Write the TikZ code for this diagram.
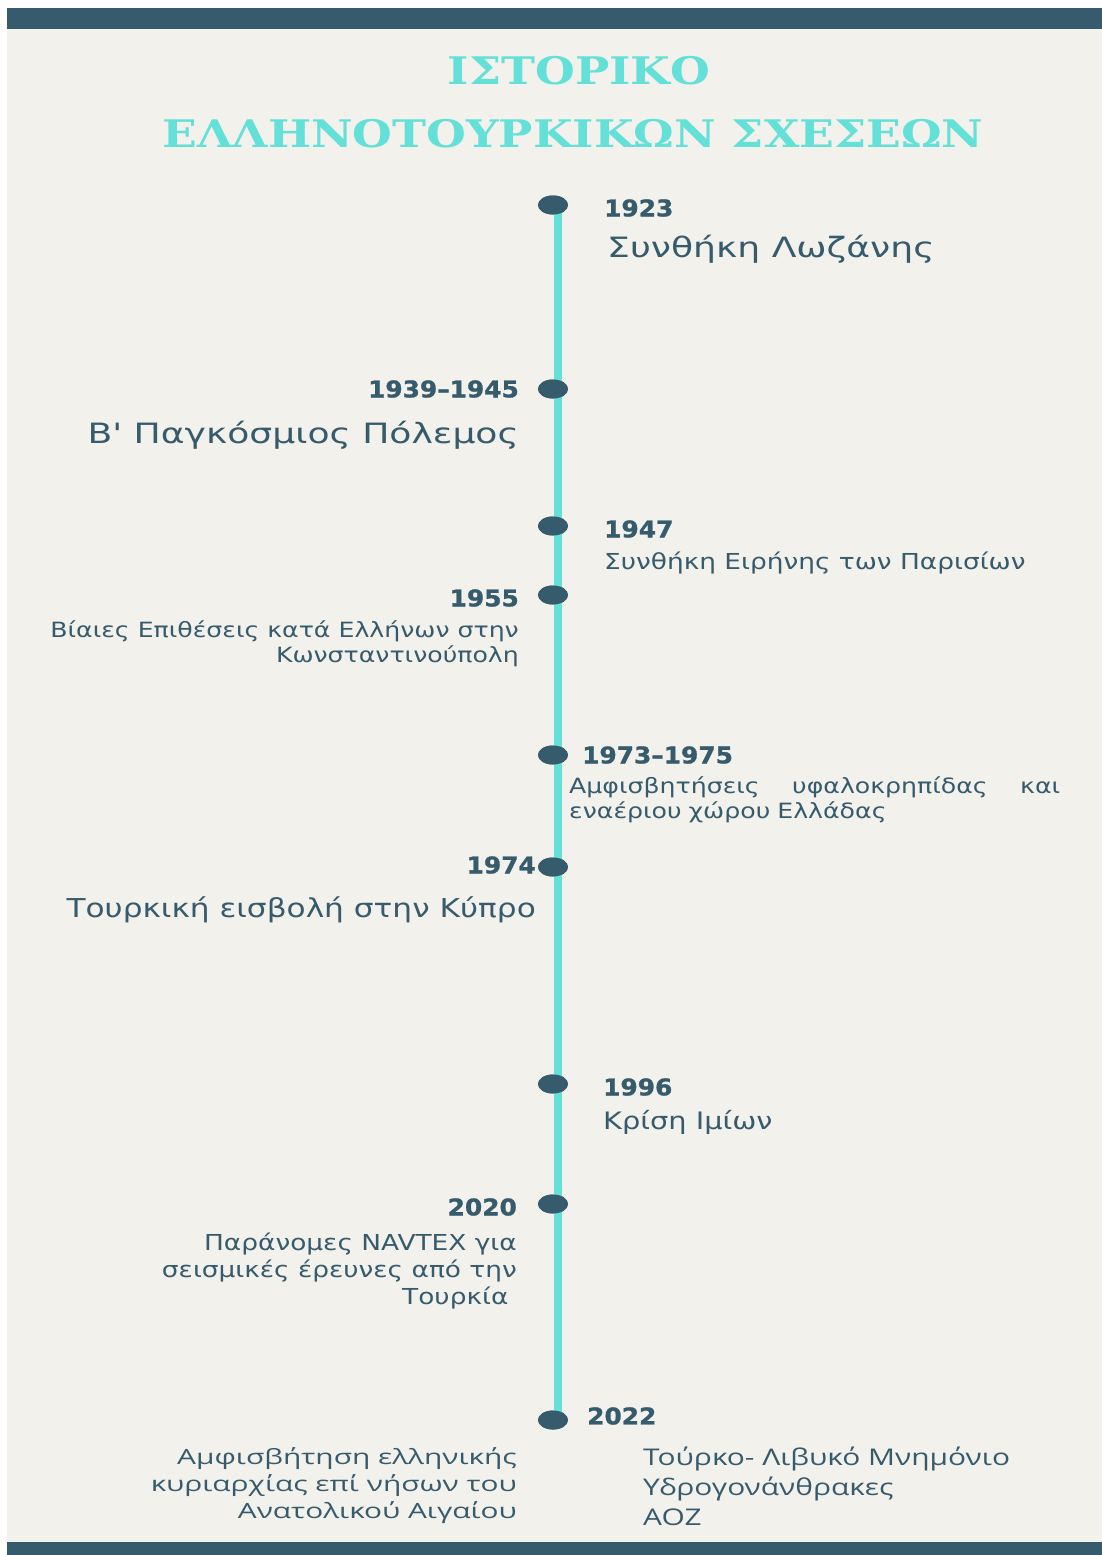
\documentclass[tikz,border=0pt]{standalone}
\usepackage{fontspec}
\setmainfont{DejaVu Sans}
\newfontfamily\bodyfont{DejaVu Sans}[FakeStretch=1.2]
\newfontfamily\widebodyfont{DejaVu Sans}[FakeStretch=1.29]
\newfontfamily\yearfont{DejaVu Sans}[FakeStretch=1.08, BoldFeatures={FakeBold=1.2}]
\newfontfamily\notefont{Open Sans}[FakeStretch=1.3]
\newfontfamily\widenotefont{Open Sans}[FakeStretch=1.42]
\newfontfamily\titlefont{DejaVu Serif}[FakeStretch=1.2]
\usetikzlibrary{shapes,arrows}
\definecolor{bgpage}{HTML}{F2F1EC}
\definecolor{darkteal}{HTML}{365B6D}
\definecolor{aqua}{HTML}{63E0D8}
\newcommand{\fs}[2]{\fontsize{#1}{#2}\selectfont}
\tikzstyle{dot} = [ellipse, fill=darkteal, minimum width=30pt, minimum height=19pt, inner sep=0pt]
\tikzstyle{year} = [text=darkteal, font=\yearfont\bfseries\fs{23}{28}, inner sep=0pt]
\tikzstyle{event} = [text=darkteal, inner sep=0pt]
\tikzstyle{heading} = [text=aqua, font=\titlefont\bfseries\fs{38}{46}, inner sep=0pt]
\tikzstyle{line} = [draw=aqua, line width=8pt]

\begin{document}
\begin{tikzpicture}[x=1pt, y=-1pt]
      \useasboundingbox (0,0) rectangle (1102,1555);
      \fill [bgpage] (7,8) rectangle (1102,1555);
      \fill [darkteal] (7,8) rectangle (1102,29);
      \fill [darkteal] (7,1542) rectangle (1102,1555);

      \node [heading] (title1) at (579,71) {ΙΣΤΟΡΙΚΟ};
      \node [heading] (title2) at (573,134) {ΕΛΛΗΝΟΤΟΥΡΚΙΚΩΝ ΣΧΕΣΕΩΝ};

      % timeline dots
      \node [dot] (d1923) at (553,205) {};
      \node [dot] (d1939) at (553,389) {};
      \node [dot] (d1947) at (553,526) {};
      \node [dot] (d1955) at (553,595) {};
      \node [dot] (d1973) at (553,755) {};
      \node [dot] (d1974) at (553,867) {};
      \node [dot] (d1996) at (553,1084) {};
      \node [dot] (d2020) at (553,1204) {};
      \node [dot] (d2022) at (553,1420) {};

      \path [line] ([xshift=4.5pt]d1923.center) -- ([xshift=4.5pt]d2022.center);
      \foreach \d in {d1923,d1939,d1947,d1955,d1973,d1974,d1996,d2020,d2022}
        \node [dot] at (\d) {};

      % right side
      \node [year, anchor=west] (y1923) at (604,208) {1923};
      \node [event, anchor=west, font=\widebodyfont\fs{28}{34}] (e1923) at (607,249) {Συνθήκη Λωζάνης};
      \node [year, anchor=west] (y1947) at (604,529) {1947};
      \node [event, anchor=west, font=\bodyfont\fs{22}{27}] (e1947) at (604,563) {Συνθήκη Ειρήνης των Παρισίων};
      \node [year, anchor=west] (y1973) at (582,755) {1973–1975};
      \node [event, anchor=north west, font=\bodyfont\fs{21}{25}, text width=491pt, align=left] (e1973) at (569,776)
        {Αμφισβητήσεις\hfill υφαλοκρηπίδας\hfill και\\ εναέριου χώρου Ελλάδας};
      \node [year, anchor=west] (y1996) at (603,1087) {1996};
      \node [event, anchor=west, font=\bodyfont\fs{24}{29}] (e1996) at (603,1122) {Κρίση Ιμίων};
      \node [year, anchor=west] (y2022) at (587,1416) {2022};
      \node [event, anchor=north west, font=\notefont\fs{23}{30}, align=left] (r2022) at (643,1447)
        {Τούρκο- Λιβυκό Μνημόνιο\\ Υδρογονάνθρακες\\ ΑΟΖ};

      % left side
      \node [year, anchor=east] (y1939) at (519,389) {1939–1945};
      \node [event, anchor=east, font=\widebodyfont\fs{28}{34}] (e1939) at (519,435) {Β' Παγκόσμιος Πόλεμος};
      \node [year, anchor=east] (y1955) at (519,598) {1955};
      \node [event, anchor=north east, font=\bodyfont\fs{21}{25}, align=right] (e1955) at (519,620)
        {Βίαιες Επιθέσεις κατά Ελλήνων στην\\ Κωνσταντινούπολη};
      \node [year, anchor=east] (y1974) at (536,865) {1974};
      \node [event, anchor=east, font=\bodyfont\fs{26}{31}] (e1974) at (536,910) {Τουρκική εισβολή στην Κύπρο};
      \node [year, anchor=east] (y2020) at (517,1207) {2020};
      \node [event, anchor=north east, font=\bodyfont\fs{22}{27}, align=right] (e2020) at (517,1233)
        {Παράνομες NAVTEX για\\ σεισμικές έρευνες από την\\ Τουρκία\ \ };
      \node [event, anchor=north east, font=\widenotefont\fs{21}{27}, align=right] (l2022) at (517,1447)
        {Αμφισβήτηση ελληνικής\\ κυριαρχίας επί νήσων του\\ Ανατολικού Αιγαίου};
\end{tikzpicture}
\end{document}
